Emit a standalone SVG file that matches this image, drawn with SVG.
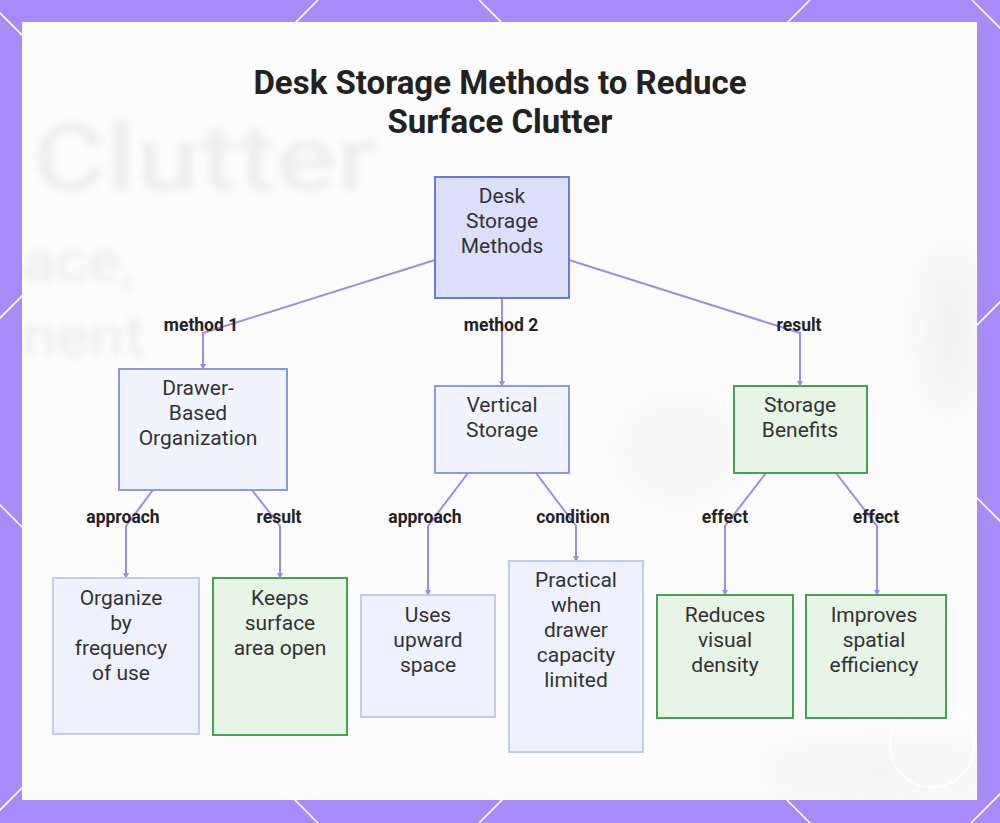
<svg xmlns="http://www.w3.org/2000/svg" width="1000" height="823" viewBox="0 0 1000 823">
<defs>
<style>
.node text{font-family:Roboto,"Liberation Sans",sans-serif;font-size:21px;fill:#333;text-anchor:middle}
.root rect{fill:#dcdffb;stroke:#6c7cd6;stroke-width:2}
.mid rect{fill:#f1f4fe;stroke:#8b98e2;stroke-width:2}
.leaf rect{fill:#eff2fe;stroke:#c3cbf2;stroke-width:2}
.green rect{fill:#e6f5e6;stroke:#45a34f;stroke-width:2}
.edges path{fill:none;stroke:#a08ae6;stroke-width:2;marker-end:url(#arr)}
.lbl text{font-family:Roboto,"Liberation Sans",sans-serif;font-size:17.5px;font-weight:bold;fill:#222;text-anchor:middle}
.title{font-family:Roboto,"Liberation Sans",sans-serif;font-size:33px;font-weight:bold;fill:#222;text-anchor:middle}
.lattice line{stroke:#ffffff;stroke-width:1.6}
.bg{font-family:Roboto,"Liberation Sans",sans-serif;font-weight:500;fill:#efefef}
</style>
<marker id="arr" viewBox="0 0 6 6" refX="5" refY="3" markerWidth="3" markerHeight="3" orient="auto">
<path d="M0,0 L6,3 L0,6 z" fill="#a08ae6"/>
</marker>
<filter id="blur" x="-10%" y="-10%" width="120%" height="120%"><feGaussianBlur stdDeviation="4"/></filter>
<filter id="blur2" x="-50%" y="-50%" width="200%" height="200%"><feGaussianBlur stdDeviation="18"/></filter>
<clipPath id="panel"><rect x="22" y="22" width="955" height="778"/></clipPath>
</defs>
<rect x="0" y="0" width="1000" height="823" fill="#a78bf8"/>
<g class="lattice">
<line x1="-13" y1="0" x2="810" y2="823"/>
<line x1="479" y1="0" x2="1302" y2="823"/>
<line x1="972" y1="0" x2="1795" y2="823"/>
<line x1="-505" y1="0" x2="318" y2="823"/>
<line x1="318" y1="0" x2="-505" y2="823"/>
<line x1="810" y1="0" x2="-13" y2="823"/>
<line x1="1302" y1="0" x2="479" y2="823"/>
<line x1="1794" y1="0" x2="971" y2="823"/>
</g>
<rect x="22" y="22" width="955" height="778" fill="#fcfcfc"/>
<g clip-path="url(#panel)">
<g filter="url(#blur2)" opacity="0.35">
<ellipse cx="950" cy="330" rx="25" ry="80" fill="#e0e0e0"/>
<ellipse cx="680" cy="450" rx="60" ry="50" fill="#eeeeee"/>
<ellipse cx="880" cy="770" rx="120" ry="20" fill="#e4e4e4"/>
</g>
<g filter="url(#blur)">
<text class="bg" x="32" y="190" font-size="92" textLength="345" lengthAdjust="spacingAndGlyphs">Clutter</text>
<text class="bg" x="22" y="282" font-size="62">ace,</text>
<text class="bg" x="22" y="357" font-size="62">nent</text>
</g>
</g>
<circle cx="932" cy="745" r="42" fill="none" stroke="#ffffff" stroke-width="1.5" opacity="0.9"/>
<text class="title" x="500" y="94">Desk Storage Methods to Reduce</text>
<text class="title" x="500" y="133">Surface Clutter</text>
<g class="edges">
<path d="M435,260 L203,333 L203,369"/>
<path d="M502,298 L502,386"/>
<path d="M569,260 L800,333 L800,386"/>
<path d="M153,490 L126,526 L126,578"/>
<path d="M252,490 L280,526 L280,578"/>
<path d="M468,473 L428,526 L428,595"/>
<path d="M536,473 L576,526 L576,561"/>
<path d="M766,473 L725,526 L725,595"/>
<path d="M836,473 L877,526 L877,595"/>
</g>
<g class="lbl">
<text x="201" y="331">method 1</text>
<text x="501" y="331">method 2</text>
<text x="799" y="331">result</text>
<text x="123" y="523">approach</text>
<text x="279" y="523">result</text>
<text x="425" y="523">approach</text>
<text x="573" y="523">condition</text>
<text x="725" y="523">effect</text>
<text x="876" y="523">effect</text>
</g>
<g id="root" class="node root"><rect x="435" y="177" width="134" height="121"/><text x="502" y="203">Desk</text><text x="502" y="228">Storage</text><text x="502" y="253">Methods</text></g>
<g id="drawer" class="node mid"><rect x="119" y="369" width="168" height="121"/><text x="198" y="395">Drawer-</text><text x="198" y="420">Based</text><text x="198" y="445">Organization</text></g>
<g id="vertical" class="node mid"><rect x="435" y="386" width="134" height="87"/><text x="502" y="412">Vertical</text><text x="502" y="437">Storage</text></g>
<g id="benefits" class="node green"><rect x="734" y="386" width="133" height="87"/><text x="800" y="412">Storage</text><text x="800" y="437">Benefits</text></g>
<g id="organize" class="node leaf"><rect x="53" y="578" width="146" height="156"/><text x="121" y="605">Organize</text><text x="121" y="630">by</text><text x="121" y="655">frequency</text><text x="121" y="680">of use</text></g>
<g id="keeps" class="node green"><rect x="213" y="578" width="134" height="157"/><text x="280" y="605">Keeps</text><text x="280" y="630">surface</text><text x="280" y="655">area open</text></g>
<g id="uses" class="node leaf"><rect x="361" y="595" width="134" height="122"/><text x="428" y="622">Uses</text><text x="428" y="647">upward</text><text x="428" y="672">space</text></g>
<g id="practical" class="node leaf"><rect x="509" y="561" width="134" height="191"/><text x="576" y="587">Practical</text><text x="576" y="612">when</text><text x="576" y="637">drawer</text><text x="576" y="662">capacity</text><text x="576" y="687">limited</text></g>
<g id="reduces" class="node green"><rect x="657" y="595" width="136" height="123"/><text x="725" y="622">Reduces</text><text x="725" y="647">visual</text><text x="725" y="672">density</text></g>
<g id="improves" class="node green"><rect x="806" y="595" width="140" height="123"/><text x="874" y="622">Improves</text><text x="874" y="647">spatial</text><text x="874" y="672">efficiency</text></g>
</svg>
